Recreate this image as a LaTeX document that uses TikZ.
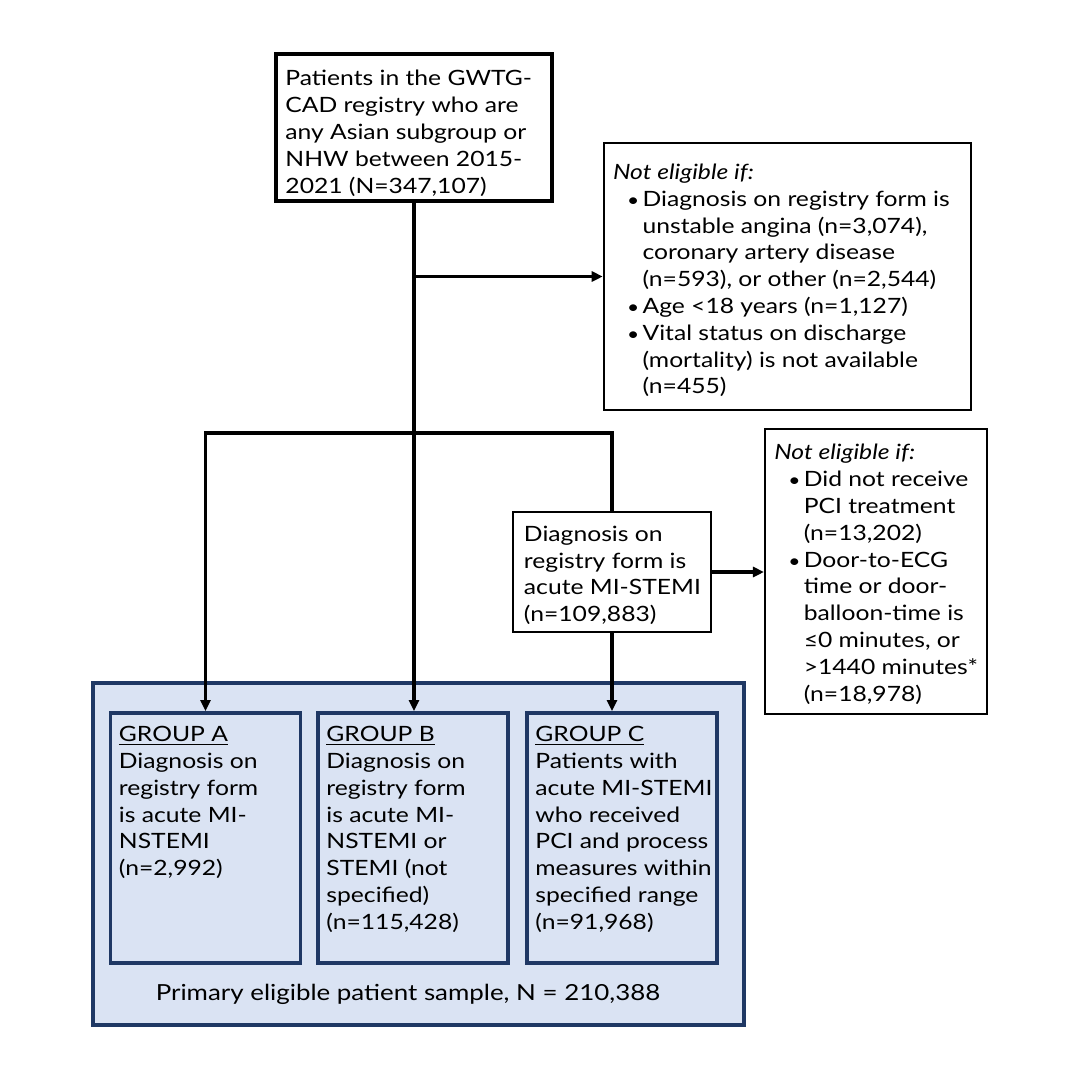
\documentclass[tikz,border=0pt]{standalone}
\usepackage{fontspec}
\setmainfont{Lato}[FakeStretch=1.17]
\usepackage{tikz}
\usetikzlibrary{arrows.meta, positioning, calc}
\definecolor{navy}{RGB}{31,56,100}
\definecolor{paleblue}{RGB}{218,227,243}
\newcommand{\itm}{\makebox[0.59cm][l]{\hspace{0.28cm}\scalebox{0.85}{\textbullet}}}
\newcommand{\cnt}{\hspace*{0.59cm}}

\begin{document}
\begin{tikzpicture}[x=0.02cm, y=-0.02cm,
        every node/.style={font=\fontsize{12pt}{15.25pt}\selectfont},
        frame/.style={draw, rectangle, inner sep=0pt},
        boxtext/.style={inner sep=0pt, align=left},
        group/.style={frame, draw=navy, line width=2.2pt, minimum width=3.8cm, minimum height=5cm},
        line/.style={line width=1.8pt},
        link/.style={line width=1.8pt, -{Triangle[length=0.22cm, width=0.2cm]}}]
        \useasboundingbox (0,0) rectangle (1080,1080);

        % Sample box
        \node[frame, draw=navy, fill=paleblue, line width=1.8pt, minimum width=13.02cm, minimum height=6.84cm] (sample) at (418.5,854) {};
        \node[font=\fontsize{12.6pt}{15pt}\selectfont] (sampletxt) at (408,994) {Primary eligible patient sample, N = 210,388};

        % Registry
        \node[frame, line width=2.2pt, minimum width=5.52cm, minimum height=2.94cm] (patients) at (414,127.5) {};
        \node[boxtext, below right=0.36cm and 0.22cm of patients.north west] (patientstxt) {Patients in the GWTG-\\CAD registry who are\\any Asian subgroup or\\NHW between 2015-\\2021 (N=347,107)};

        % First exclusion
        \node[frame, line width=1.5pt, minimum width=7.34cm, minimum height=5.34cm] (excl1) at (787.5,276.5) {};
        \node[boxtext, below right=0.44cm and 0.2cm of excl1.north west] (excl1txt) {\textit{Not eligible if:}\\
            \itm Diagnosis on registry form is\\
            \cnt unstable angina (n=3,074),\\
            \cnt coronary artery disease\\
            \cnt (n=593), or other (n=2,544)\\
            \itm Age <18 years (n=1,127)\\
            \itm Vital status on discharge\\
            \cnt (mortality) is not available\\
            \cnt (n=455)};

        % STEMI
        \node[frame, line width=1.6pt, minimum width=3.96cm, minimum height=2.4cm] (stemi) at (612,572) {};
        \node[boxtext, below right=0.3cm and 0.24cm of stemi.north west] (stemitxt) {Diagnosis on\\registry form is\\acute MI-STEMI\\(n=109,883)};

        % Second exclusion
        \node[frame, line width=1.2pt, minimum width=4.44cm, minimum height=5.7cm] (excl2) at (876,571.5) {};
        \node[boxtext, below right=0.32cm and 0.2cm of excl2.north west] (excl2txt) {\textit{Not eligible if:}\\
            \itm Did not receive\\
            \cnt PCI treatment\\
            \cnt (n=13,202)\\
            \itm Door-to-ECG\\
            \cnt time or door-\\
            \cnt balloon-time is\\
            \cnt ≤0 minutes, or\\
            \cnt >1440 minutes*\\
            \cnt (n=18,978)};

        % Groups
        \node[group] (grpA) at (205.5,838) {};
        \node[group] (grpB) at (413,838) {};
        \node[group] (grpC) at (622,838) {};
        \node[boxtext, below right=0.3cm and 0.2cm of grpA.north west] (grpAtxt) {\underline{GROUP A}\\Diagnosis on\\registry form\\is acute MI-\\NSTEMI\\(n=2,992)};
        \node[boxtext, below right=0.3cm and 0.2cm of grpB.north west] (grpBtxt) {\underline{GROUP B}\\Diagnosis on\\registry form\\is acute MI-\\NSTEMI or\\STEMI (not\\specified)\\(n=115,428)};
        \node[boxtext, below right=0.3cm and 0.2cm of grpC.north west] (grpCtxt) {\underline{GROUP C}\\Patients with\\acute MI-STEMI\\who received\\PCI and process\\measures within\\specified range\\(n=91,968)};

        % Connectors
        \coordinate (hbar) at (0,433);
        \coordinate (split1) at (patients.south |- excl1.west);
        \coordinate (split2) at (patients.south |- hbar);
        \draw[link] (patients.south) -- (patients.south |- grpB.north); % main line
        \draw[link] (split1) -- (excl1.west);
        \draw[link] (split2) -| (grpA.north);
        \draw[line] (split2) -| (stemi.north);
        \draw[link] (stemi.east) -- (stemi.east -| excl2.west);
        \draw[link] (stemi.south) -- (stemi.south |- grpC.north);
    \end{tikzpicture}
\end{document}
